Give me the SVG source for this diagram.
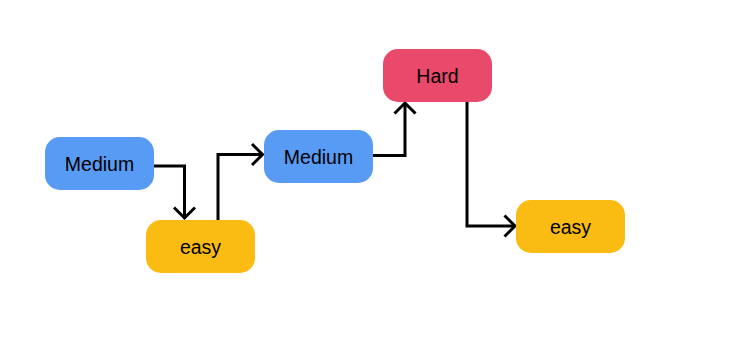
<svg xmlns="http://www.w3.org/2000/svg" width="745" height="364" viewBox="0 0 745 364">
  <style>
    .node rect { stroke: none; }
    .medium rect { fill: #589BF4; }
    .easy rect { fill: #FABC13; }
    .hard rect { fill: #E94A6C; }
    .node text { font-family: "Liberation Sans", Arial, sans-serif; font-size: 19.5px; fill: #000; text-anchor: middle; }
    .edge { fill: none; stroke: #000; stroke-width: 3; }
    .head { fill: none; stroke: #000; stroke-width: 3; stroke-linecap: butt; stroke-linejoin: miter; }
  </style>
  <rect width="745" height="364" fill="#fff"/>

  <g id="connectors">
    <!-- Medium -> easy -->
    <path class="edge" d="M154 166 H184.5 V219"/>
    <path class="head" d="M174 207.5 L184.5 218 L195 207.5"/>
    <!-- easy -> Medium -->
    <path class="edge" d="M218 220 V154.5 H263"/>
    <path class="head" d="M252 144 L262.5 154.5 L252 165"/>
    <!-- Medium -> Hard -->
    <path class="edge" d="M373 155.5 H405 V103"/>
    <path class="head" d="M394.5 113.5 L405 103 L415.5 113.5"/>
    <!-- Hard -> easy -->
    <path class="edge" d="M467 102 V226 H515"/>
    <path class="head" d="M504.5 215.5 L515 226 L504.5 236.5"/>
  </g>

  <g id="medium-1" class="node medium">
    <rect x="45" y="137" width="109" height="53" rx="15"/>
    <text x="99.5" y="170.7">Medium</text>
  </g>
  <g id="easy-1" class="node easy">
    <rect x="146" y="220" width="109" height="53" rx="15"/>
    <text x="200.5" y="253.7">easy</text>
  </g>
  <g id="medium-2" class="node medium">
    <rect x="264" y="130" width="109" height="53" rx="15"/>
    <text x="318.5" y="163.7">Medium</text>
  </g>
  <g id="hard" class="node hard">
    <rect x="383" y="49" width="109" height="53" rx="15"/>
    <text x="437.5" y="82.7">Hard</text>
  </g>
  <g id="easy-2" class="node easy">
    <rect x="516" y="200" width="109" height="53" rx="15"/>
    <text x="570.5" y="233.7">easy</text>
  </g>
</svg>
